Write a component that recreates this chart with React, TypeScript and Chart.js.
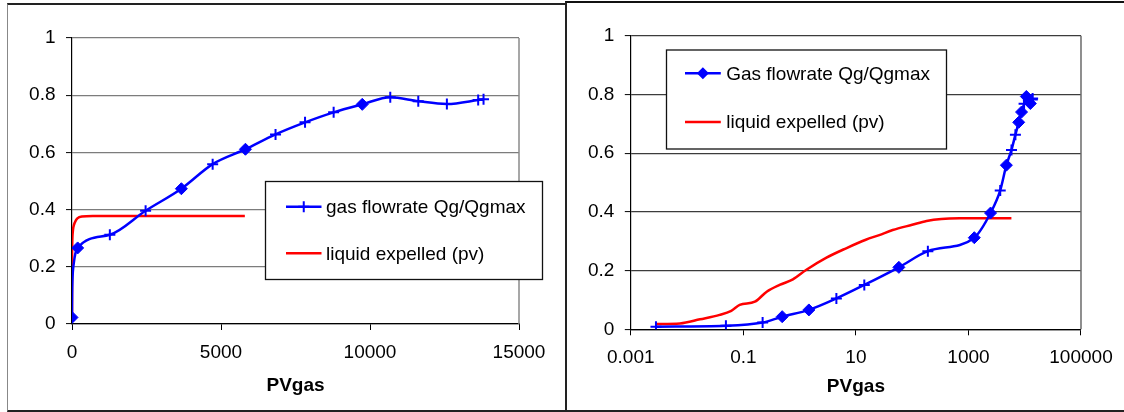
import React, { useEffect, useRef } from 'react';
import { Chart, registerables } from 'chart.js';

Chart.register(...registerables);

// ---- data ----
const gasPV = [0.0028, 0.049, 0.22, 0.49, 1.46, 4.5, 14.1, 58, 190, 1270, 2470, 3670, 4720, 5820, 6830, 7820, 8780, 9740, 10680, 11620, 12580, 13630, 13810];
const gasQ = [0.009, 0.012, 0.023, 0.043, 0.066, 0.105, 0.151, 0.211, 0.266, 0.312, 0.396, 0.473, 0.559, 0.611, 0.663, 0.705, 0.74, 0.768, 0.793, 0.779, 0.769, 0.783, 0.786];
const liquidPV = [0.0028, 0.0075, 0.017, 0.038, 0.061, 0.086, 0.16, 0.26, 0.44, 0.76, 1.3, 3.0, 6.7, 15, 26, 45, 100, 180, 330, 700, 5800];
const liquidVol = [0.018, 0.02, 0.034, 0.049, 0.063, 0.083, 0.094, 0.128, 0.151, 0.17, 0.202, 0.244, 0.276, 0.305, 0.321, 0.338, 0.356, 0.369, 0.376, 0.378, 0.378];

// marker kinds per point ("d" diamond, "p" plus, "n" none visible)
const leftMarkers = ['n', 'n', 'd', 'n', 'n', 'n', 'n', 'n', 'd', 'p', 'p', 'd', 'p', 'd', 'p', 'p', 'p', 'd', 'p', 'p', 'p', 'p', 'p'];
const rightMarkers = ['p', 'p', 'p', 'd', 'd', 'p', 'p', 'd', 'p', 'd', 'd', 'p', 'd', 'p', 'p', 'd', 'd', 'p', 'd', 'p', 'd', 'p', 'p'];

const yTicks = [0, 0.2, 0.4, 0.6, 0.8, 1];
const linTicks = [0, 5000, 10000, 15000];
const logTicks = [0.001, 0.1, 10, 1000, 100000];

const leftGasLabel = 'gas flowrate Qg/Qgmax';
const rightGasLabel = 'Gas flowrate Qg/Qgmax';
const liquidLabel = 'liquid expelled (pv)';
const xTitle = 'PVgas';

// ---- styling ----
const FONT = "'Liberation Sans', Arial, sans-serif";
const BLUE = '#0000ff';
const RED = '#ff0000';
const W = 562;
const H = 412;

type Kind = 'lin' | 'log';

const AREAS = {
  lin: { left: 72, right: 519, top: 38, bottom: 324 },
  log: { left: 68.8, right: 519.7, top: 35.7, bottom: 329.3 },
};

const LEGENDS = {
  lin: { x: 265, y: 181, w: 277, h: 98, l1: 286, l2: 321.5, tx: 326, rows: [206.7, 253.3], marker: 'p' },
  log: { x: 104, y: 49.5, w: 280, h: 99, l1: 123, l2: 158.8, tx: 164.2, rows: [73.3, 122], marker: 'd' },
};

function drawMarker(ctx: CanvasRenderingContext2D, kind: string, x: number, y: number) {
  ctx.save();
  ctx.strokeStyle = BLUE;
  ctx.fillStyle = BLUE;
  if (kind === 'd') {
    const r = 6;
    ctx.beginPath();
    ctx.moveTo(x - r, y);
    ctx.lineTo(x, y - r);
    ctx.lineTo(x + r, y);
    ctx.lineTo(x, y + r);
    ctx.closePath();
    ctx.fill();
  } else {
    const r = 5.5;
    ctx.lineWidth = 2;
    ctx.beginPath();
    ctx.moveTo(x, y - r);
    ctx.lineTo(x, y + r);
    ctx.moveTo(x - r, y);
    ctx.lineTo(x + r, y);
    ctx.stroke();
  }
  ctx.restore();
}

function makeConfig(kind: Kind): any {
  const isLog = kind === 'log';
  const area = AREAS[kind];
  const markers = isLog ? rightMarkers : leftMarkers;
  const gridColor = isLog ? '#3c3c3c' : '#7c7c7c';
  const lg = LEGENDS[kind];

  const framePlugin = {
    id: 'frame',
    beforeDatasetsDraw(chart: any) {
      const { ctx, chartArea } = chart;
      ctx.save();
      ctx.strokeStyle = isLog ? '#6a6a6a' : '#8a8a8a';
      ctx.lineWidth = 1.5;
      ctx.beginPath();
      ctx.moveTo(chartArea.right, chartArea.top);
      ctx.lineTo(chartArea.right, chartArea.bottom);
      ctx.stroke();
      ctx.restore();
    },
  };

  const legendPlugin = {
    id: 'boxLegend',
    afterDraw(chart: any) {
      const ctx: CanvasRenderingContext2D = chart.ctx;
      ctx.save();
      ctx.fillStyle = '#fff';
      ctx.fillRect(lg.x, lg.y, lg.w, lg.h);
      ctx.strokeStyle = '#111';
      ctx.lineWidth = 1.3;
      ctx.strokeRect(lg.x + 0.5, lg.y + 0.5, lg.w, lg.h);
      ctx.font = `19px ${FONT}`;
      ctx.textBaseline = 'middle';
      ctx.textAlign = 'left';
      chart.data.datasets.forEach((ds: any, i: number) => {
        const y = lg.rows[i];
        ctx.strokeStyle = ds.borderColor;
        ctx.lineWidth = 2.5;
        ctx.beginPath();
        ctx.moveTo(lg.l1, y);
        ctx.lineTo(lg.l2, y);
        ctx.stroke();
        if (i === 0) drawMarker(ctx, lg.marker, (lg.l1 + lg.l2) / 2, y);
        ctx.fillStyle = '#000';
        ctx.fillText(ds.label, lg.tx, y + 1);
      });
      ctx.restore();
    },
  };

  return {
    type: 'line',
    data: {
      datasets: [
        {
          label: isLog ? rightGasLabel : leftGasLabel,
          data: gasPV.map((x, i) => ({ x, y: gasQ[i] })),
          borderColor: BLUE,
          backgroundColor: BLUE,
          borderWidth: 2.5,
          pointStyle: markers.map((m) => (m === 'd' ? 'rectRot' : 'cross')),
          pointRadius: markers.map((m) => (m === 'd' ? 6 : m === 'p' ? 5.5 : 0)),
          pointBorderWidth: markers.map((m) => (m === 'd' ? 1 : 2)),
          pointBackgroundColor: BLUE,
          pointBorderColor: BLUE,
          cubicInterpolationMode: 'monotone',
          fill: false,
        },
        {
          label: liquidLabel,
          data: liquidPV.map((x, i) => ({ x, y: liquidVol[i] })),
          borderColor: RED,
          backgroundColor: RED,
          borderWidth: 2.5,
          pointRadius: 0,
          cubicInterpolationMode: 'monotone',
          fill: false,
        },
      ],
    },
    options: {
      responsive: false,
      animation: false,
      devicePixelRatio: 1,
      events: [],
      layout: { padding: { top: area.top, right: W - area.right, left: 0, bottom: 0 } },
      plugins: { legend: { display: false }, tooltip: { enabled: false }, title: { display: false } },
      scales: {
        x: {
          type: isLog ? 'logarithmic' : 'linear',
          min: isLog ? logTicks[0] : linTicks[0],
          max: isLog ? logTicks[logTicks.length - 1] : linTicks[linTicks.length - 1],
          afterBuildTicks: (s: any) => {
            s.ticks = (isLog ? logTicks : linTicks).map((v) => ({ value: v }));
          },
          afterFit: (s: any) => {
            s.height = H - area.bottom;
          },
          ticks: {
            callback: (v: any) => String(v),
            font: { family: FONT, size: 19 },
            color: '#000',
            padding: 11.3,
            maxRotation: 0,
            autoSkip: false,
          },
          grid: { drawOnChartArea: false, tickLength: 6, tickColor: '#000', tickWidth: 1 },
          border: { color: '#000', width: 1.2 },
          title: {
            display: true,
            text: xTitle,
            font: { family: FONT, size: 19, weight: 'bold' },
            color: '#000',
            padding: { top: 0, bottom: isLog ? 13.9 : 14.9 },
          },
        },
        y: {
          type: 'linear',
          min: 0,
          max: 1,
          afterBuildTicks: (s: any) => {
            s.ticks = yTicks.map((v) => ({ value: v }));
          },
          afterFit: (s: any) => {
            s.width = area.left;
          },
          ticks: {
            callback: (v: any) => String(v),
            font: { family: FONT, size: 19 },
            color: '#000',
            padding: 10.5,
          },
          grid: { color: gridColor, lineWidth: 1.2, tickLength: 6, tickColor: '#000', tickWidth: 1 },
          border: { color: '#000', width: 1.2 },
        },
      },
    },
    plugins: [framePlugin, legendPlugin],
  };
}

function ChartPanel({ kind, left }: { kind: Kind; left: number }) {
  const ref = useRef<HTMLCanvasElement>(null);
  useEffect(() => {
    if (!ref.current) return;
    const chart = new Chart(ref.current, makeConfig(kind));
    return () => chart.destroy();
  }, [kind]);
  return (
    <canvas
      ref={ref}
      width={W}
      height={H}
      style={{ position: 'absolute', left, top: 0, width: W, height: H }}
    />
  );
}

export default function App() {
  return (
    <div
      style={{
        position: 'fixed',
        left: 0,
        top: 0,
        width: 1124,
        height: 412,
        background: '#fff',
        overflow: 'hidden',
      }}
    >
      <ChartPanel kind="lin" left={0} />
      <ChartPanel kind="log" left={562} />
      <div
        style={{
          position: 'absolute',
          left: 7,
          top: 3,
          width: 559,
          height: 409,
          boxSizing: 'border-box',
          borderTop: '2px solid #222',
          borderLeft: '1px solid #888',
          borderRight: '1px solid #999',
          borderBottom: '2px solid #222',
          pointerEvents: 'none',
        }}
      />
      <div
        style={{
          position: 'absolute',
          left: 565,
          top: 1,
          width: 560,
          height: 411,
          boxSizing: 'border-box',
          borderTop: '2px solid #111',
          borderLeft: '2px solid #222',
          borderBottom: '2px solid #222',
          pointerEvents: 'none',
        }}
      />
    </div>
  );
}
